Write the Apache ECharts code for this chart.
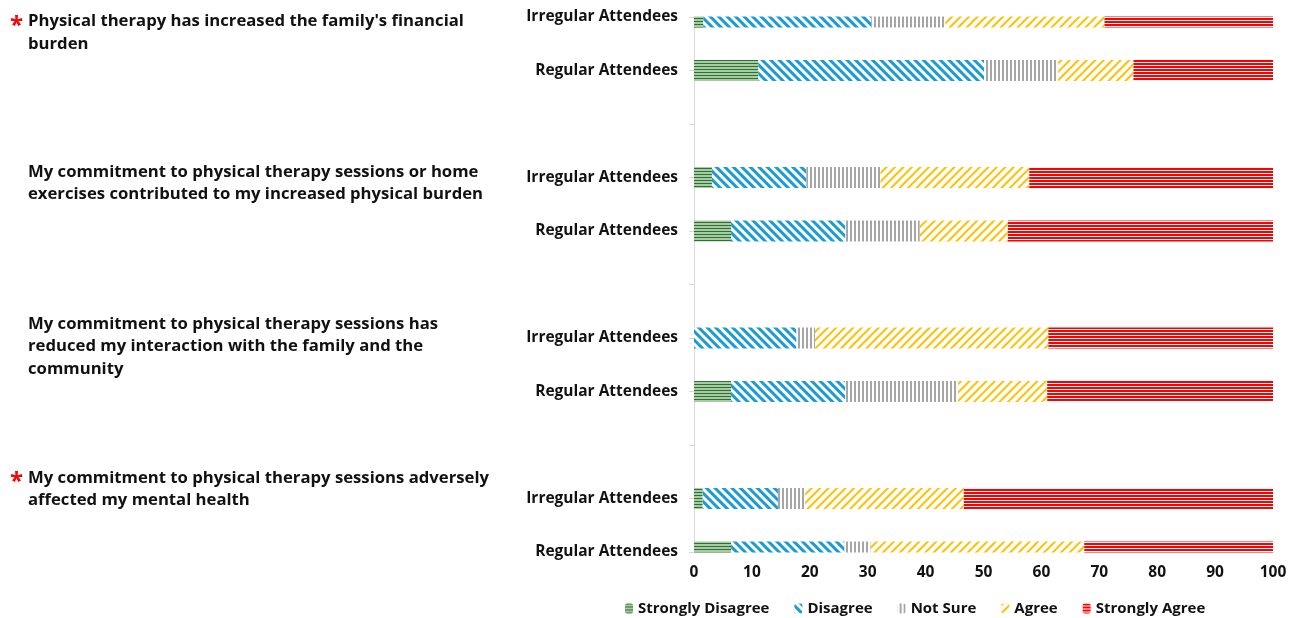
<!DOCTYPE html>
<html>
<head>
<meta charset="utf-8">
<script src="https://cdn.jsdelivr.net/npm/echarts@6/dist/echarts.min.js"></script>
<style>
  html, body { margin: 0; padding: 0; background: #fff; }
  #chart { width: 1294px; height: 618px; }
</style>
</head>
<body>
<div id="chart"></div>
<script>
// rows top to bottom: Q1 irregular, Q1 regular, Q2 irregular, ... Q4 regular
const groups = ['Irregular Attendees', 'Regular Attendees'];
const responses = ['Strongly Disagree', 'Disagree', 'Not Sure', 'Agree', 'Strongly Agree'];

const stronglyDisagree = [1.6, 11.1, 3.1, 6.4, 0, 6.4, 1.5, 6.4];
const disagree         = [29.0, 39.0, 16.3, 19.7, 17.7, 19.7, 13.0, 19.6];
const notSure          = [12.8, 12.8, 12.8, 12.9, 3.2, 19.5, 4.7, 4.5];
const agree            = [27.5, 13.0, 25.7, 15.2, 40.3, 15.4, 27.4, 36.9];
const stronglyAgree    = [29.1, 24.1, 42.1, 45.8, 38.8, 39.0, 53.4, 32.6];

const questions = [
  "Physical therapy has increased the family's financial\nburden",
  "My commitment to physical therapy sessions or home\nexercises contributed to my increased physical burden",
  "My commitment to physical therapy sessions has\nreduced my interaction with the family and the\ncommunity",
  "My commitment to physical therapy sessions adversely\naffected my mental health"
];
const significant = [true, false, false, true];
const xTicks = [0, 100, 10]; // min, max, interval

// category slots: two rows per question with an empty slot between questions
const categories = [];
for (let q = 0; q < questions.length; q++) {
  if (q > 0) categories.push('');
  groups.forEach(g => categories.push(g));
}
function spread(arr) {
  const out = [];
  for (let q = 0; q < questions.length; q++) {
    if (q > 0) out.push('-');
    out.push(arr[q * 2], arr[q * 2 + 1]);
  }
  return out;
}

const FONT = '"Open Sans", Roboto, sans-serif';
const styles = [
  { base: '#a9caa5', decal: { color: '#2a7330', dashArrayX: [1, 0], dashArrayY: [1, 2], rotation: 0 } },
  { base: '#ffffff', decal: { color: '#1b9ad6', dashArrayX: [1, 0], dashArrayY: [3, 3], rotation: Math.PI / 4 } },
  { base: '#ffffff', decal: { color: '#a6a6a6', dashArrayX: [1, 0], dashArrayY: [2, 2], rotation: Math.PI / 2 } },
  { base: '#ffffff', decal: { color: '#ffc000', dashArrayX: [1, 0], dashArrayY: [2, 4], rotation: -Math.PI / 4 } },
  { base: '#ffffff', decal: { color: '#ff0000', dashArrayX: [1, 0], dashArrayY: [2, 1], rotation: 0 } }
];
const values = [stronglyDisagree, disagree, notSure, agree, stronglyAgree];

const G = { left: 694, right: 21, top: 17, bottom: 66 };
const W = 1294, H = 618;

const chart = echarts.init(document.getElementById('chart'));

const graphics = [];
const qTops = [10, 160.5, 312.5, 466.5];
questions.forEach((t, i) => {
  graphics.push({
    type: 'text', left: 28, top: qTops[i],
    style: { text: t, font: 'bold 16.7px ' + FONT, fill: '#111', lineHeight: 22.5 }
  });
  if (significant[i]) {
    graphics.push({
      type: 'text', left: 10, top: qTops[i] + 4,
      style: { text: '*', font: 'bold 24px ' + FONT, fill: '#ff0000' }
    });
  }
});
// Excel clips the outermost bars at the plot edges; bar clip in echarts is widened
// for non-band category axes, so mask the overflow above and below the plot area
graphics.push(
  { type: 'rect', z: 100, silent: true, shape: { x: G.left - 1, y: 0, width: W - G.left + 1, height: G.top - 0.5 }, style: { fill: '#fff' } },
  { type: 'rect', z: 100, silent: true, shape: { x: G.left - 1, y: H - G.bottom + 0.5, width: W - G.left + 1, height: 11 }, style: { fill: '#fff' } }
);

chart.setOption({
  animation: false,
  grid: G,
  legend: {
    data: responses,
    left: 620, top: 596,
    itemWidth: 8, itemHeight: 10, itemGap: 25,
    textStyle: { fontFamily: FONT, fontWeight: 'bold', fontSize: 15, color: '#111' }
  },
  xAxis: {
    type: 'value', min: xTicks[0], max: xTicks[1], interval: xTicks[2],
    splitLine: { show: false },
    axisLine: { show: false },
    axisTick: { show: false },
    axisLabel: { fontFamily: FONT, fontWeight: 'bold', fontSize: 15.5, color: '#111', margin: 13 }
  },
  yAxis: {
    type: 'category', data: categories, inverse: true, boundaryGap: false,
    axisLine: { lineStyle: { color: '#d9d9d9' } },
    axisTick: { length: 5, lineStyle: { color: '#d9d9d9' } },
    axisLabel: { fontFamily: FONT, fontWeight: 'bold', fontSize: 15.5, color: '#111', margin: 16, interval: 0 }
  },
  series: responses.map((name, i) => ({
    name, type: 'bar', stack: 'total', barWidth: 21,
    data: spread(values[i]),
    itemStyle: { color: styles[i].base, decal: Object.assign({ symbol: 'rect', symbolSize: 1 }, styles[i].decal) }
  })),
  graphic: graphics
});
</script>
</body>
</html>
